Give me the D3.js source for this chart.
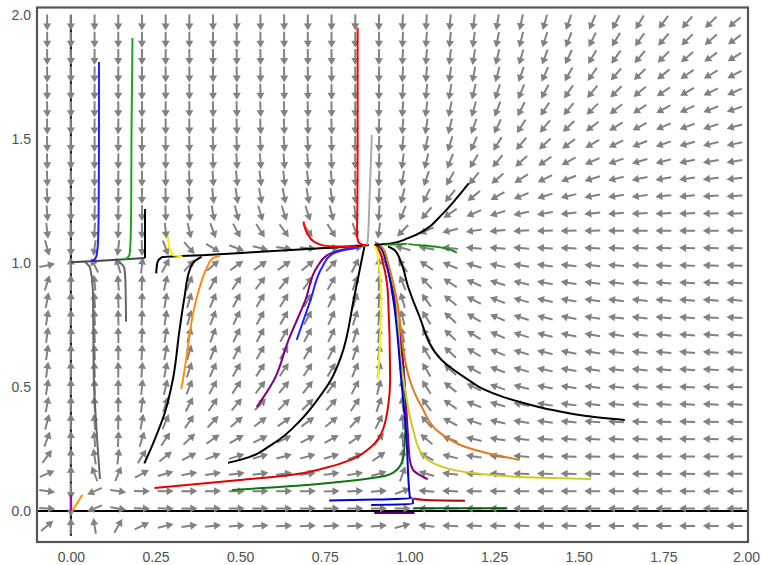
<!DOCTYPE html>
<html>
<head>
<meta charset="utf-8">
<script src="https://cdn.jsdelivr.net/npm/d3@7"></script>
<style>
  body { margin: 0; background: #fff; }
  text { font-family: "Liberation Sans", Arial, sans-serif; }
</style>
</head>
<body>
<svg id="chart" width="761" height="565"></svg>
<script>
// ticks
const xTicks = [0, 0.25, 0.5, 0.75, 1.0, 1.25, 1.5, 1.75, 2.0];
const yTicks = [0, 0.5, 1.0, 1.5, 2.0];

// quiver grid
const gridX = [-0.07, 0, 0.07, 0.14, 0.21, 0.28, 0.35, 0.42, 0.49, 0.56, 0.63, 0.70, 0.77, 0.84, 0.91,
               0.98, 1.05, 1.12, 1.19, 1.26, 1.33, 1.40, 1.47, 1.54, 1.61, 1.68, 1.75, 1.82, 1.89, 1.96];
const gridY = [-0.06, 0.01, 0.08, 0.15, 0.22, 0.29, 0.36, 0.43, 0.50, 0.57, 0.64, 0.71, 0.78, 0.85, 0.92,
               0.99, 1.06, 1.13, 1.20, 1.27, 1.34, 1.41, 1.48, 1.55, 1.62, 1.69, 1.76, 1.83, 1.90, 1.97];

// model parameters (direction field)
const theta = 0.1, a = 0.075, b = 0.075, r = 1.0;

// axis lines
const axisV = [[0, -0.1], [0, 2.0]];
const axisH = [[-0.1, 0], [2.0, 0]];

// trajectories
const blueTop = [[0.083, 1.81], [0.083, 1.5], [0.082, 1.2], [0.080, 1.08], [0.076, 1.03], [0.068, 1.012], [0.06, 1.009]];
const greenTop = [[0.182, 1.907], [0.179, 1.5], [0.178, 1.2], [0.176, 1.08], [0.173, 1.032], [0.164, 1.018], [0.155, 1.014]];
const darkH = [[0, 1.003], [0.1, 1.01], [0.219, 1.02]];
const blackShort = [[0.219, 1.218], [0.219, 1.02]];
const gray1 = [[0.042, 1.004], [0.057, 0.98], [0.065, 0.89], [0.068, 0.528], [0.074, 0.367], [0.086, 0.129]];
const gray2 = [[0.143, 1.005], [0.158, 0.979], [0.161, 0.931], [0.163, 0.763]];
const blackMain = [[0.252, 0.958], [0.256, 1.004], [0.268, 1.023], [0.4, 1.032], [0.56, 1.045], [0.8, 1.064], [0.88, 1.072]];
const yellowSmall = [[0.287, 1.109], [0.29, 1.066], [0.302, 1.032], [0.33, 1.026]];
const blackLeft = [[0.217, 0.192], [0.247, 0.286], [0.277, 0.394], [0.301, 0.528], [0.321, 0.73], [0.336, 0.865],
                   [0.351, 0.972], [0.366, 1.008], [0.386, 1.025]];
const orangeLeft = [[0.326, 0.492], [0.331, 0.528], [0.346, 0.663], [0.361, 0.797], [0.381, 0.904], [0.401, 0.979],
                    [0.42, 1.02], [0.44, 1.028]];
const purpleMid = [[0.549, 0.419], [0.6, 0.528], [0.643, 0.69], [0.693, 0.851], [0.728, 0.985], [0.758, 1.032],
                   [0.798, 1.052], [0.84, 1.062]];
const blueMid = [[0.667, 0.69], [0.708, 0.851], [0.743, 0.985], [0.768, 1.032], [0.807, 1.052], [0.85, 1.062]];
const blackMid = [[0.464, 0.194], [0.5, 0.206], [0.599, 0.273], [0.679, 0.367], [0.728, 0.448], [0.768, 0.528],
                  [0.798, 0.622], [0.837, 0.864], [0.857, 0.999], [0.867, 1.066]];
const redLow = [[0.247, 0.093], [0.5, 0.125], [0.649, 0.145], [0.748, 0.172], [0.827, 0.206], [0.887, 0.259],
                [0.917, 0.313], [0.937, 0.421], [0.943, 0.528], [0.937, 0.864], [0.922, 0.999], [0.907, 1.059], [0.897, 1.073]];
const greenLow = [[0.476, 0.085], [0.698, 0.105], [0.847, 0.125], [0.937, 0.145], [0.971, 0.179], [0.984, 0.233],
                  [0.989, 0.394], [0.985, 0.528], [0.955, 0.864], [0.93, 1.0], [0.91, 1.068]];
const purpleBR = [[1.054, 0.128], [1.031, 0.145], [1.011, 0.165], [1.001, 0.206], [0.996, 0.3], [0.985, 0.528],
                  [0.955, 0.864], [0.93, 1.0], [0.91, 1.068]];
const yellowBR = [[1.537, 0.129], [1.393, 0.134], [1.274, 0.142], [1.194, 0.152], [1.095, 0.179], [1.036, 0.233],
                  [1.011, 0.327], [0.986, 0.501], [0.975, 0.6], [0.96, 0.864], [0.932, 1.0], [0.91, 1.068]];
const blueLow = [[0.763, 0.042], [0.9, 0.046], [1.006, 0.051], [1.001, 0.058], [0.991, 0.3], [0.976, 0.528],
                 [0.951, 0.864], [0.932, 0.999], [0.917, 1.059], [0.907, 1.073]];
const blueLow2 = [[0.887, 0.024], [1.01, 0.028], [1.01, 0.05]];
const yellowMid = [[0.907, 0.53], [0.917, 0.864], [0.909, 0.999], [0.902, 1.059], [0.895, 1.073]];
const orangeBR = [[1.324, 0.206], [1.194, 0.246], [1.095, 0.31], [1.036, 0.42], [1.001, 0.528], [0.961, 0.864],
                  [0.937, 0.999], [0.922, 1.059], [0.912, 1.073]];
const blackBR = [[1.636, 0.367], [1.522, 0.383], [1.423, 0.407], [1.323, 0.441], [1.274, 0.461], [1.22, 0.49],
                 [1.175, 0.528], [1.095, 0.609], [1.026, 0.797], [0.996, 0.904], [0.976, 0.999], [0.956, 1.052], [0.937, 1.066]];
const redBR = [[1.012, 0.05], [1.05, 0.044], [1.164, 0.041]];
const greenBR = [[1.011, 0.008], [1.015, 0.011], [1.289, 0.011]];
const purpleBottom = [[0.896, -0.008], [1.015, -0.008]];
const blackUR = [[1.175, 1.321], [1.135, 1.254], [1.095, 1.194], [1.046, 1.133], [0.996, 1.1], [0.946, 1.079], [0.897, 1.073]];
const greenR = [[1.14, 1.042], [1.075, 1.066], [0.996, 1.077], [0.927, 1.073]];
const redTop = [[0.847, 1.948], [0.847, 1.5], [0.846, 1.2], [0.845, 1.12], [0.849, 1.086], [0.862, 1.073], [0.877, 1.07]];
const grayLight = [[0.889, 1.516], [0.882, 1.254], [0.877, 1.093], [0.875, 1.073]];
const redSmall = [[0.687, 1.167], [0.698, 1.12], [0.718, 1.086], [0.748, 1.07], [0.798, 1.066], [0.847, 1.066]];
const purpleOrigin = [[0.001, 0], [0.0, 0.065]];
const orangeOrigin = [[0.004, 0], [0.034, 0.065]];

const series = [
    { pts: gray1, color: '#666666' },
    { pts: gray2, color: '#666666' },
    { pts: darkH, color: '#474747' },
    { pts: blackShort, color: '#000000' },
    { pts: blueTop, color: '#1f1fff' },
    { pts: greenTop, color: '#22a022' },
    { pts: blackMain, color: '#000000' },
    { pts: yellowSmall, color: '#ffee00' },
    { pts: blackLeft, color: '#000000' },
    { pts: orangeLeft, color: '#ff8c1a' },
    { pts: purpleMid, color: '#800080' },
    { pts: blueMid, color: '#2222ff' },
    { pts: blackMid, color: '#000000' },
    { pts: greenLow, color: '#117711' },
    { pts: purpleBR, color: '#800080' },
    { pts: yellowBR, color: '#cccc22' },
    { pts: redLow, color: '#e00000' },
    { pts: blueLow, color: '#0000cc' },
    { pts: blueLow2, color: '#0000cc' },
    { pts: yellowMid, color: '#ffee22' },
    { pts: orangeBR, color: '#e07820' },
    { pts: blackBR, color: '#000000' },
    { pts: redBR, color: '#bb0000' },
    { pts: greenBR, color: '#006400' },
    { pts: purpleBottom, color: '#4b0082' },
    { pts: blackUR, color: '#000000' },
    { pts: greenR, color: '#1a8a1a' },
    { pts: redTop, color: '#ff0000' },
    { pts: grayLight, color: '#aaaaaa' },
    { pts: redSmall, color: '#ff0000' },
    { pts: purpleOrigin, color: '#aa00aa' },
    { pts: orangeOrigin, color: '#ff9900' }
];

const svg = d3.select('#chart');

const xScale = d3.scaleLinear().domain([-0.1, 2.0]).range([37, 748]);
const yScale = d3.scaleLinear().domain([-0.125, 2.03]).range([542, 7.5]);

svg.append('clipPath').attr('id', 'clip')
    .append('rect')
    .attr('x', 37).attr('y', 7.5)
    .attr('width', 748 - 37).attr('height', 542 - 7.5);

const plot = svg.append('g').attr('clip-path', 'url(#clip)');

const line = d3.line().x(d => xScale(d[0])).y(d => yScale(d[1])).curve(d3.curveMonotoneY);
const straight = d3.line().x(d => xScale(d[0])).y(d => yScale(d[1]));

// x=0 and y=0 lines
plot.append('path').attr('d', straight(axisV)).attr('stroke', '#000').attr('stroke-width', 2).attr('fill', 'none');
plot.append('path').attr('d', straight(axisH)).attr('stroke', '#000').attr('stroke-width', 2).attr('fill', 'none');

// direction field
function field(x, y) {
    const u = x * (x - theta) * (1 - x) - a * x * y;
    const v = r * (y * (y - theta) * (1 - y) + b * x * y);
    return [u, v];
}

const L = 16, hl = 7, hw = 8, sw = 2;
const arrowShape = [
    [-L / 2, -sw / 2], [L / 2 - hl, -sw / 2], [L / 2 - hl, -hw / 2], [L / 2, 0],
    [L / 2 - hl, hw / 2], [L / 2 - hl, sw / 2], [-L / 2, sw / 2]
].map(p => p.join(',')).join(' ');

const arrows = [];
gridY.forEach(gy => {
    gridX.forEach(gx => {
        const [u, v] = field(gx, gy);
        if (u === 0 && v === 0) return;
        arrows.push({ x: gx, y: gy, angle: Math.atan2(-v, u) * 180 / Math.PI });
    });
});

plot.append('g').selectAll('polygon')
    .data(arrows)
    .join('polygon')
    .attr('points', arrowShape)
    .attr('transform', d => `translate(${xScale(d.x)},${yScale(d.y)}) rotate(${d.angle})`)
    .attr('fill', '#828282');

// trajectories
series.forEach(s => {
    plot.append('path')
        .attr('d', s.pts.length > 2 ? line(s.pts) : straight(s.pts))
        .attr('fill', 'none')
        .attr('stroke', s.color)
        .attr('stroke-width', 2)
        .attr('stroke-linecap', 'butt');
});

// frame
svg.append('rect')
    .attr('x', 37).attr('y', 7.5)
    .attr('width', 748 - 37).attr('height', 542 - 7.5)
    .attr('fill', 'none')
    .attr('stroke', '#555')
    .attr('stroke-width', 2.2);

// tick labels
const xAxis = svg.append('g')
    .attr('transform', 'translate(0,542)')
    .call(d3.axisBottom(xScale).tickValues(xTicks).tickSize(0).tickPadding(10).tickFormat(d3.format('.2f')));
const yAxis = svg.append('g')
    .attr('transform', 'translate(37,0)')
    .call(d3.axisLeft(yScale).tickValues(yTicks).tickSize(0).tickPadding(6).tickFormat(d3.format('.1f')));

[xAxis, yAxis].forEach(ax => {
    ax.select('.domain').remove();
    ax.selectAll('text')
        .attr('fill', '#505050')
        .style('font-size', '14px')
        .style('font-family', '"Liberation Sans", Arial, sans-serif');
});

// последняя подпись у самого края
xAxis.selectAll('.tick text').filter(d => d === 2.0).attr('dx', -2);
</script>
</body>
</html>
